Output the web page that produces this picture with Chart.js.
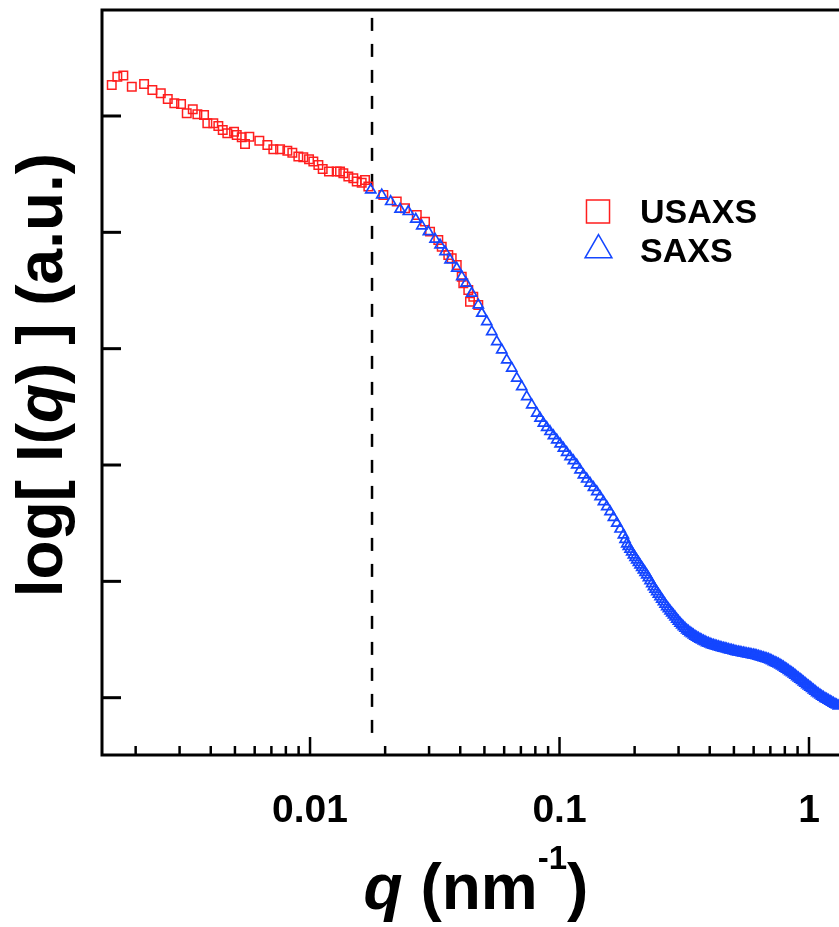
<!DOCTYPE html>
<html>
<head>
<meta charset="utf-8">
<script src="https://cdn.jsdelivr.net/npm/chart.js@4/dist/chart.umd.min.js"></script>
<style>
  body { margin: 0; background: #fff; overflow: hidden; }
  canvas { display: block; }
</style>
</head>
<body>
<canvas id="saxsChart" width="839" height="927"></canvas>
<script>
// USAXS data, q in nm^-1 and log I in arbitrary units
var usaxsQ = [0.001604,0.001689,0.001785,0.001930,0.002162,0.002333,0.002522,0.002690,0.002858,0.003041,
  0.003205,0.003388,0.003535,0.003760,0.003876,0.004096,0.004290,0.004468,0.004661,0.004959,
  0.005084,0.005324,0.005488,0.005710,0.006263,0.006745,0.007127,0.007584,0.008110,0.008492,
  0.008977,0.009399,0.009908,0.01031,0.01080,0.01124,0.01191,0.01279,0.01319,0.01360,
  0.01424,0.01491,0.01539,0.01611,0.01661,0.01713,0.01967,0.02226,0.02403,0.02678,
  0.02890,0.03027,0.03267,0.03372,0.03583,0.03697,0.03873,0.04055,0.04115,0.04309,
  0.04377,0.04512,0.04725];
var usaxsI = [5.267,5.338,5.347,5.252,5.275,5.224,5.196,5.147,5.110,5.104,
  5.024,5.058,5.015,5.009,4.938,4.938,4.914,4.880,4.852,4.865,
  4.837,4.817,4.760,4.822,4.788,4.751,4.714,4.714,4.702,4.685,
  4.651,4.645,4.628,4.608,4.579,4.545,4.522,4.522,4.522,4.508,
  4.479,4.465,4.436,4.427,4.450,4.393,4.321,4.264,4.207,4.149,
  4.092,4.006,3.935,3.877,3.806,3.777,3.720,3.619,3.562,3.505,
  3.404,3.447,3.376];

// SAXS data
var saxsQ = [0.01751,0.01938,0.02105,0.02295,0.02477,0.02653,0.02804,0.02980,0.03170,0.03319,
  0.03476,0.03640,0.03873,0.04055,0.04220,0.04447,0.04726,0.04878,0.05108,0.05349,
  0.05602,0.05867,0.06143,0.06433,0.06737,0.07055,0.07388,0.07737,0.08102,0.08612,
  0.09161,0.09745,0.1036,0.1102,0.1172,0.1246,0.1325,0.1410,0.1499,0.1594,
  0.1696,0.1803,0.1859,0.1917,0.1977,0.2039,0.2102,0.2168,0.2236,0.2306,
  0.2378,0.2452,0.2529,0.2608,0.2689,0.2773,0.2860,0.2949,0.3041,0.3136,
  0.3234,0.3335,0.3439,0.3547,0.3657,0.3772,0.3889,0.4011,0.4136,0.4265,
  0.4398,0.4536,0.4677,0.4823,0.4974,0.5129,0.5290,0.5455,0.5625,0.5801,
  0.5982,0.6169,0.6362,0.6560,0.6765,0.6977,0.7195,0.7419,0.7651,0.7890,
  0.8137,0.8391,0.8653,0.8923,0.9202,0.9490,0.9786,1.0092,1.0407,1.0732,
  1.1068,1.1413,1.1770,1.2138,1.2517,1.2908,1.310];
var saxsI = [4.364,4.321,4.264,4.198,4.178,4.112,4.055,4.006,3.941,3.892,
  3.834,3.763,3.691,3.619,3.562,3.476,3.376,3.304,3.232,3.146,
  3.060,2.989,2.903,2.832,2.746,2.673,2.587,2.516,2.445,2.359,
  2.287,2.215,2.144,2.072,2.000,1.914,1.843,1.771,1.685,1.599,
  1.499,1.399,1.321,1.276,1.227,1.184,1.141,1.098,1.055,1.006,
  0.954,0.911,0.868,0.825,0.782,0.745,0.711,0.674,0.640,0.610,
  0.582,0.559,0.539,0.519,0.502,0.487,0.473,0.462,0.450,0.442,
  0.433,0.425,0.419,0.410,0.404,0.395,0.390,0.384,0.378,0.373,
  0.367,0.361,0.352,0.344,0.335,0.324,0.309,0.296,0.281,0.264,
  0.244,0.224,0.204,0.181,0.158,0.135,0.112,0.089,0.066,0.043,
  0.023,0.003,-0.014,-0.031,-0.048,-0.063,-0.071];

// more SAXS readings in the dense high-q part of the band
var saxsDenseQ = [0.08353,0.08882,0.09448,0.1005,0.1068,0.1136,0.1208,0.1285,0.1367,0.1454,
  0.1546,0.1644,0.1749,0.1831,0.1887,0.1947,0.2008,0.2071,0.2135,0.2202,
  0.2271,0.2342,0.2415,0.2490,0.2568,0.2648,0.2731,0.2816,0.2904,0.2995,
  0.3088,0.3185,0.3284,0.3387,0.3492,0.3602,0.3714,0.3830,0.3949,0.4073,
  0.4200,0.4331,0.4466,0.4606,0.4750,0.4898,0.5051,0.5208,0.5372,0.5539,
  0.5712,0.5891,0.6075,0.6265,0.6461,0.6662,0.6870,0.7085,0.7307,0.7534,
  0.7770,0.8012,0.8263,0.8521,0.8787,0.9061,0.9345,0.9637,0.9938,1.0248,
  1.0568,1.0898,1.1240,1.1590,1.1952,1.2326,1.2711];
var saxsDenseI = [2.402,2.323,2.251,2.180,2.108,2.036,1.957,1.879,1.807,1.728,
  1.642,1.549,1.449,1.360,1.299,1.252,1.206,1.163,1.120,1.077,
  1.031,0.980,0.933,0.890,0.847,0.804,0.764,0.728,0.693,0.657,
  0.625,0.596,0.571,0.549,0.529,0.511,0.495,0.480,0.468,0.456,
  0.446,0.438,0.429,0.422,0.415,0.407,0.400,0.393,0.387,0.381,
  0.376,0.370,0.364,0.357,0.348,0.340,0.330,0.317,0.303,0.289,
  0.273,0.254,0.234,0.214,0.193,0.170,0.147,0.124,0.101,0.078,
  0.055,0.033,0.013,-0.006,-0.023,-0.040,-0.056];

// merge point between the two data sets (dashed line)
var cutoffQ = [0.01772, 0.01772];
var cutoffI = [5.843, -0.407];

var xTickValues = [0.01, 0.1, 1];
var xTickLabels = ["0.01", "0.1", "1"];
var yTickValues = [0, 1, 2, 3, 4, 5];
var seriesNames = ["USAXS", "SAXS"];

var FONT = '"Liberation Sans", Arial, sans-serif';
var RED = "rgb(255,30,30)";
var BLUE = "rgb(20,70,255)";

function toPoints(xs, ys) {
  return xs.map(function (x, i) { return { x: x, y: ys[i] }; });
}

// draws a line of text made of parts with different fonts, centred on x
function drawParts(ctx, parts, x, y) {
  var total = 0;
  parts.forEach(function (p) { ctx.font = p.font; total += ctx.measureText(p.text).width; });
  var cx = x - total / 2;
  ctx.textAlign = "left";
  ctx.textBaseline = "alphabetic";
  parts.forEach(function (p) {
    ctx.font = p.font;
    ctx.fillText(p.text, cx, y + (p.dy || 0));
    cx += ctx.measureText(p.text).width;
  });
}

var framePlugin = {
  id: "frame",
  afterDraw: function (chart) {
    var ctx = chart.ctx;
    var a = chart.chartArea;
    var xs = chart.scales.x, ys = chart.scales.y;
    ctx.save();
    ctx.strokeStyle = "#000";
    ctx.fillStyle = "#000";
    ctx.lineCap = "butt";

    // frame: left, top, bottom
    ctx.lineWidth = 3;
    ctx.beginPath();
    ctx.moveTo(a.right + 2, a.top); ctx.lineTo(a.left, a.top);
    ctx.lineTo(a.left, a.bottom); ctx.lineTo(a.right + 2, a.bottom);
    ctx.stroke();

    // y ticks (inside, no labels)
    yTickValues.forEach(function (v) {
      var py = ys.getPixelForValue(v);
      ctx.beginPath(); ctx.moveTo(a.left, py); ctx.lineTo(a.left + 19, py); ctx.stroke();
    });

    // x ticks, major and minor, pointing inward
    ctx.lineWidth = 2.5;
    for (var e = -3; e <= 0; e++) {
      for (var m = 1; m <= 9; m++) {
        var v = m * Math.pow(10, e);
        if (v < xs.min || v > xs.max) continue;
        var px = xs.getPixelForValue(v);
        var len = m === 1 ? 18 : 9;
        ctx.beginPath(); ctx.moveTo(px, a.bottom); ctx.lineTo(px, a.bottom - len); ctx.stroke();
      }
    }

    // x tick labels
    ctx.font = "bold 39px " + FONT;
    ctx.textAlign = "center";
    ctx.textBaseline = "alphabetic";
    xTickValues.forEach(function (v, i) {
      ctx.fillText(xTickLabels[i], xs.getPixelForValue(v), 822);
    });

    // x axis title
    drawParts(ctx, [
      { text: "q", font: "italic bold 64px " + FONT },
      { text: " (nm", font: "bold 64px " + FONT },
      { text: "-1", font: "bold 33px " + FONT, dy: -40 },
      { text: ")", font: "bold 64px " + FONT }
    ], 476, 909);

    // y axis title
    ctx.save();
    ctx.translate(62, 375);
    ctx.rotate(-Math.PI / 2);
    drawParts(ctx, [
      { text: "log[ I(", font: "bold 64px " + FONT },
      { text: "q", font: "italic bold 64px " + FONT },
      { text: ") ] (a.u.)", font: "bold 64px " + FONT }
    ], 0, 0);
    ctx.restore();

    // legend
    var ds = chart.data.datasets;
    ctx.fillStyle = "rgba(0,0,0,0)";
    ctx.lineWidth = 1.5;
    ctx.strokeStyle = RED;
    Chart.helpers.drawPoint(ctx, { pointStyle: "rect", radius: 16.3, borderWidth: 1.5 }, 598, 211.5);
    ctx.strokeStyle = BLUE;
    Chart.helpers.drawPoint(ctx, { pointStyle: "triangle", radius: 15.5, borderWidth: 1.5 }, 598.5, 250);
    ctx.fillStyle = "#000";
    ctx.font = "bold 34px " + FONT;
    ctx.textAlign = "left";
    ctx.fillText(ds[0].label, 640, 223);
    ctx.fillText(ds[1].label, 640, 262);

    ctx.restore();
  }
};

var ctx1 = document.getElementById("saxsChart");
var saxsChart = new Chart(ctx1, {
  type: "scatter",
  data: {
    datasets: [
      {
        label: seriesNames[0],
        data: toPoints(usaxsQ, usaxsI),
        pointStyle: "rect",
        pointRadius: 6,
        borderWidth: 1.5,
        borderColor: RED,
        backgroundColor: "rgba(0,0,0,0)",
        order: 2
      },
      {
        label: seriesNames[1],
        data: toPoints(saxsQ, saxsI).concat(toPoints(saxsDenseQ, saxsDenseI)),
        pointStyle: "triangle",
        pointRadius: 5.8,
        borderWidth: 1.7,
        borderColor: BLUE,
        backgroundColor: "rgba(0,0,0,0)",
        order: 1
      },
      {
        type: "line",
        label: "cutoff",
        data: toPoints(cutoffQ, cutoffI),
        showLine: true,
        pointRadius: 0,
        borderColor: "#000",
        borderWidth: 2.5,
        borderDash: [13, 13],
        fill: false,
        order: 3
      }
    ]
  },
  options: {
    responsive: false,
    animation: false,
    devicePixelRatio: 1,
    layout: { autoPadding: false, padding: { left: 102, top: 10, right: 0, bottom: 172 } },
    plugins: { legend: { display: false }, tooltip: { enabled: false } },
    scales: {
      x: { type: "logarithmic", min: 0.001466, max: 1.319, display: false, ticks: { display: false } },
      y: { type: "linear", min: -0.4926, max: 5.911, display: false, ticks: { display: false } }
    }
  },
  plugins: [framePlugin]
});
</script>
</body>
</html>
